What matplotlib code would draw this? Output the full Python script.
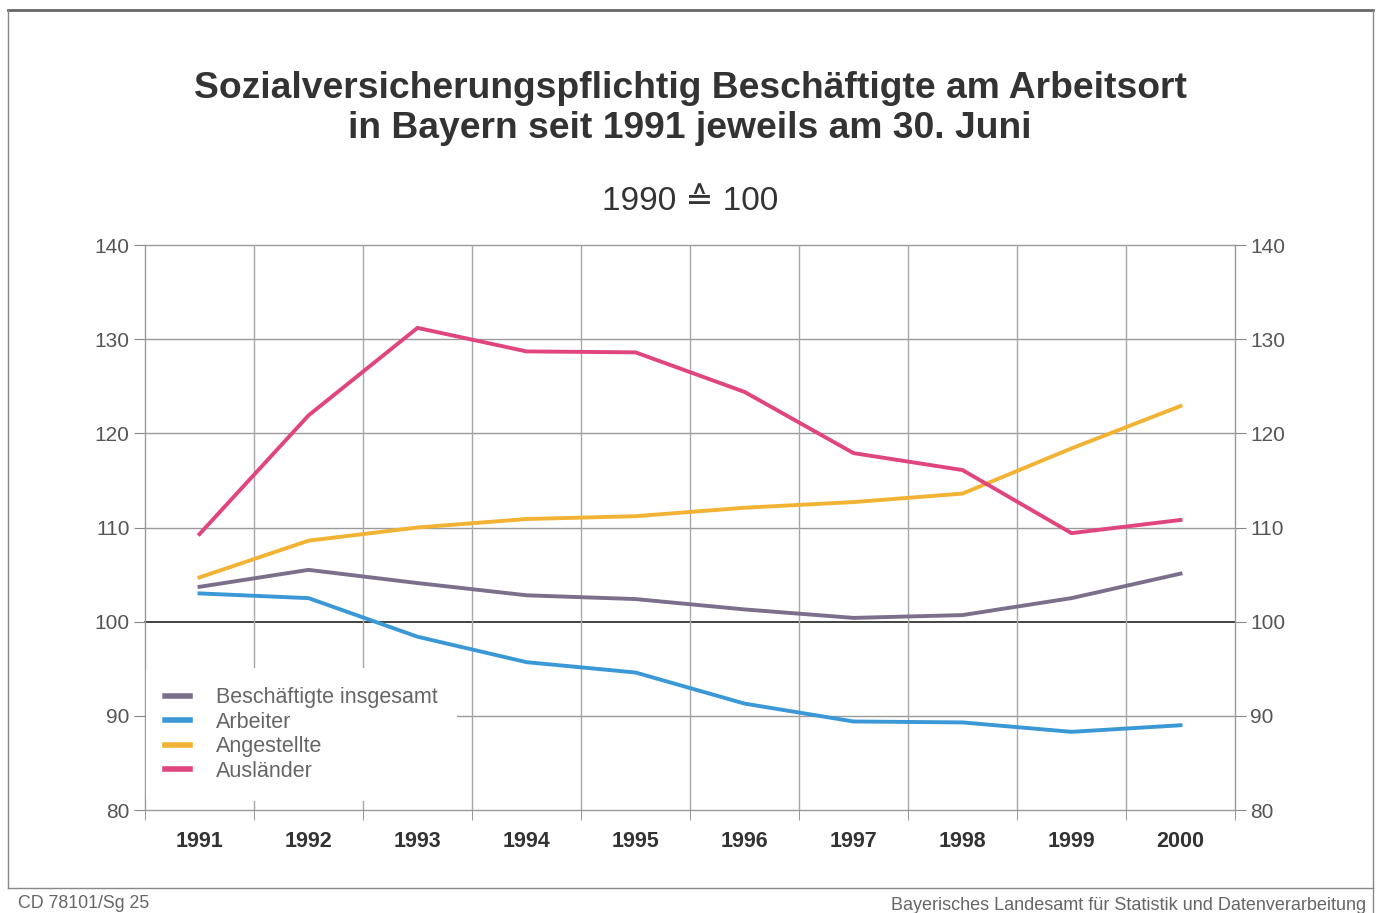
import matplotlib
matplotlib.use("Agg")
import matplotlib.pyplot as plt
from matplotlib.lines import Line2D
import numpy as np

years = ["1991", "1992", "1993", "1994", "1995", "1996", "1997", "1998", "1999", "2000"]
insgesamt = [103.7, 105.5, 104.1, 102.8, 102.4, 101.3, 100.4, 100.7, 102.5, 105.1]
arbeiter = [103.0, 102.5, 98.4, 95.7, 94.6, 91.3, 89.4, 89.3, 88.3, 89.0]
angestellte = [104.7, 108.6, 110.0, 110.9, 111.2, 112.1, 112.7, 113.6, 118.4, 122.9]
auslaender = [109.3, 121.9, 131.2, 128.7, 128.6, 124.4, 117.9, 116.1, 109.4, 110.8]
series_names = ["Beschäftigte insgesamt", "Arbeiter", "Angestellte", "Ausländer"]
yticks = [80, 90, 100, 110, 120, 130, 140]

colors = ["#7b6f8c", "#3b98d6", "#f2b233", "#e0457e"]

plt.rcParams['font.family'] = ['Liberation Sans', 'DejaVu Sans']

fig = plt.figure(figsize=(13.8, 9.13), dpi=100)
ax = fig.add_axes([145/1380, 1-810/913, (1235-145)/1380, (810-245)/913])

x = np.arange(len(years))
for vals, name, c in zip([insgesamt, arbeiter, angestellte, auslaender], series_names, colors):
    ax.plot(x, vals, color=c, lw=2.8, label=name, solid_joinstyle='round', zorder=3)

ax.set_xlim(-0.5, len(years) - 0.5)
ax.set_ylim(80, 140)
ax.set_yticks(yticks)
ax.set_yticklabels([str(v) for v in yticks])
ax.set_xticks(x)
ax.set_xticklabels(years, fontweight='bold', fontsize=15.5, color='#333333')
ax.set_xticks(np.arange(-0.5, len(years)), minor=True)
ax.tick_params(axis='x', which='major', length=0, pad=15)
ax.tick_params(axis='x', which='minor', length=7, direction='out', color='#888888')
ax.tick_params(axis='y', which='major', length=8, direction='out', color='#888888',
               labelsize=15, labelcolor='#555555', right=True, labelright=True, pad=3)

for v in yticks:
    ax.axhline(v, color='#222222' if v == 100 else '#9a9a9a', lw=1.2 if v == 100 else 1.0,
               zorder=1, clip_on=False)
for e in np.arange(0.5, len(years) - 0.5):
    ax.axvline(e, color='#a8a8a8', lw=1.0, zorder=1)

ax.spines['top'].set_visible(False)
ax.spines['bottom'].set_visible(False)
for s in ['left', 'right']:
    ax.spines[s].set_color('#9a9a9a')
    ax.spines[s].set_linewidth(1.0)

leg = ax.legend(loc='lower left', bbox_to_anchor=(146/1380, 1-801/913),
                bbox_transform=fig.transFigure, frameon=True, fontsize=15.5,
                handlelength=1.15, handletextpad=1.2, labelspacing=0.16,
                borderpad=0.9, borderaxespad=0.0)
leg.get_frame().set_facecolor('white')
leg.get_frame().set_edgecolor('none')
leg.get_frame().set_alpha(1)
for t in leg.get_texts():
    t.set_color('#666666')
for h in leg.legend_handles:
    h.set_linewidth(4)
leg.set_zorder(5)

fig.text(0.5, 1-88/913, "Sozialversicherungspflichtig Beschäftigte am Arbeitsort",
         ha='center', va='center', fontsize=26.8, fontweight='bold', color='#333333')
fig.text(0.5, 1-128/913, "in Bayern seit 1991 jeweils am 30. Juni",
         ha='center', va='center', fontsize=26.8, fontweight='bold', color='#333333')
fig.text(0.5, 1-201/913, "1990 ≙ 100", ha='center', va='center', fontsize=24, color='#333333')

fig.text(18/1380, 1-903/913, "CD 78101/Sg 25", ha='left', va='center', fontsize=12.8, color='#666666')
fig.text(1366/1380, 1-905/913, "Bayerisches Landesamt für Statistik und Datenverarbeitung",
         ha='right', va='center', fontsize=13.0, color='#666666')

# page frame
fig.add_artist(Line2D([8/1380, 1373/1380], [1-10/913, 1-10/913], transform=fig.transFigure, color='#666666', lw=2))
fig.add_artist(Line2D([8/1380, 8/1380], [1-10/913, 1-888/913], transform=fig.transFigure, color='#888888', lw=1))
fig.add_artist(Line2D([1373/1380, 1373/1380], [1-10/913, 0], transform=fig.transFigure, color='#888888', lw=1))
fig.add_artist(Line2D([8/1380, 1373/1380], [1-888/913, 1-888/913], transform=fig.transFigure, color='#888888', lw=1))

fig.savefig("out.png", dpi=100, facecolor='white')
